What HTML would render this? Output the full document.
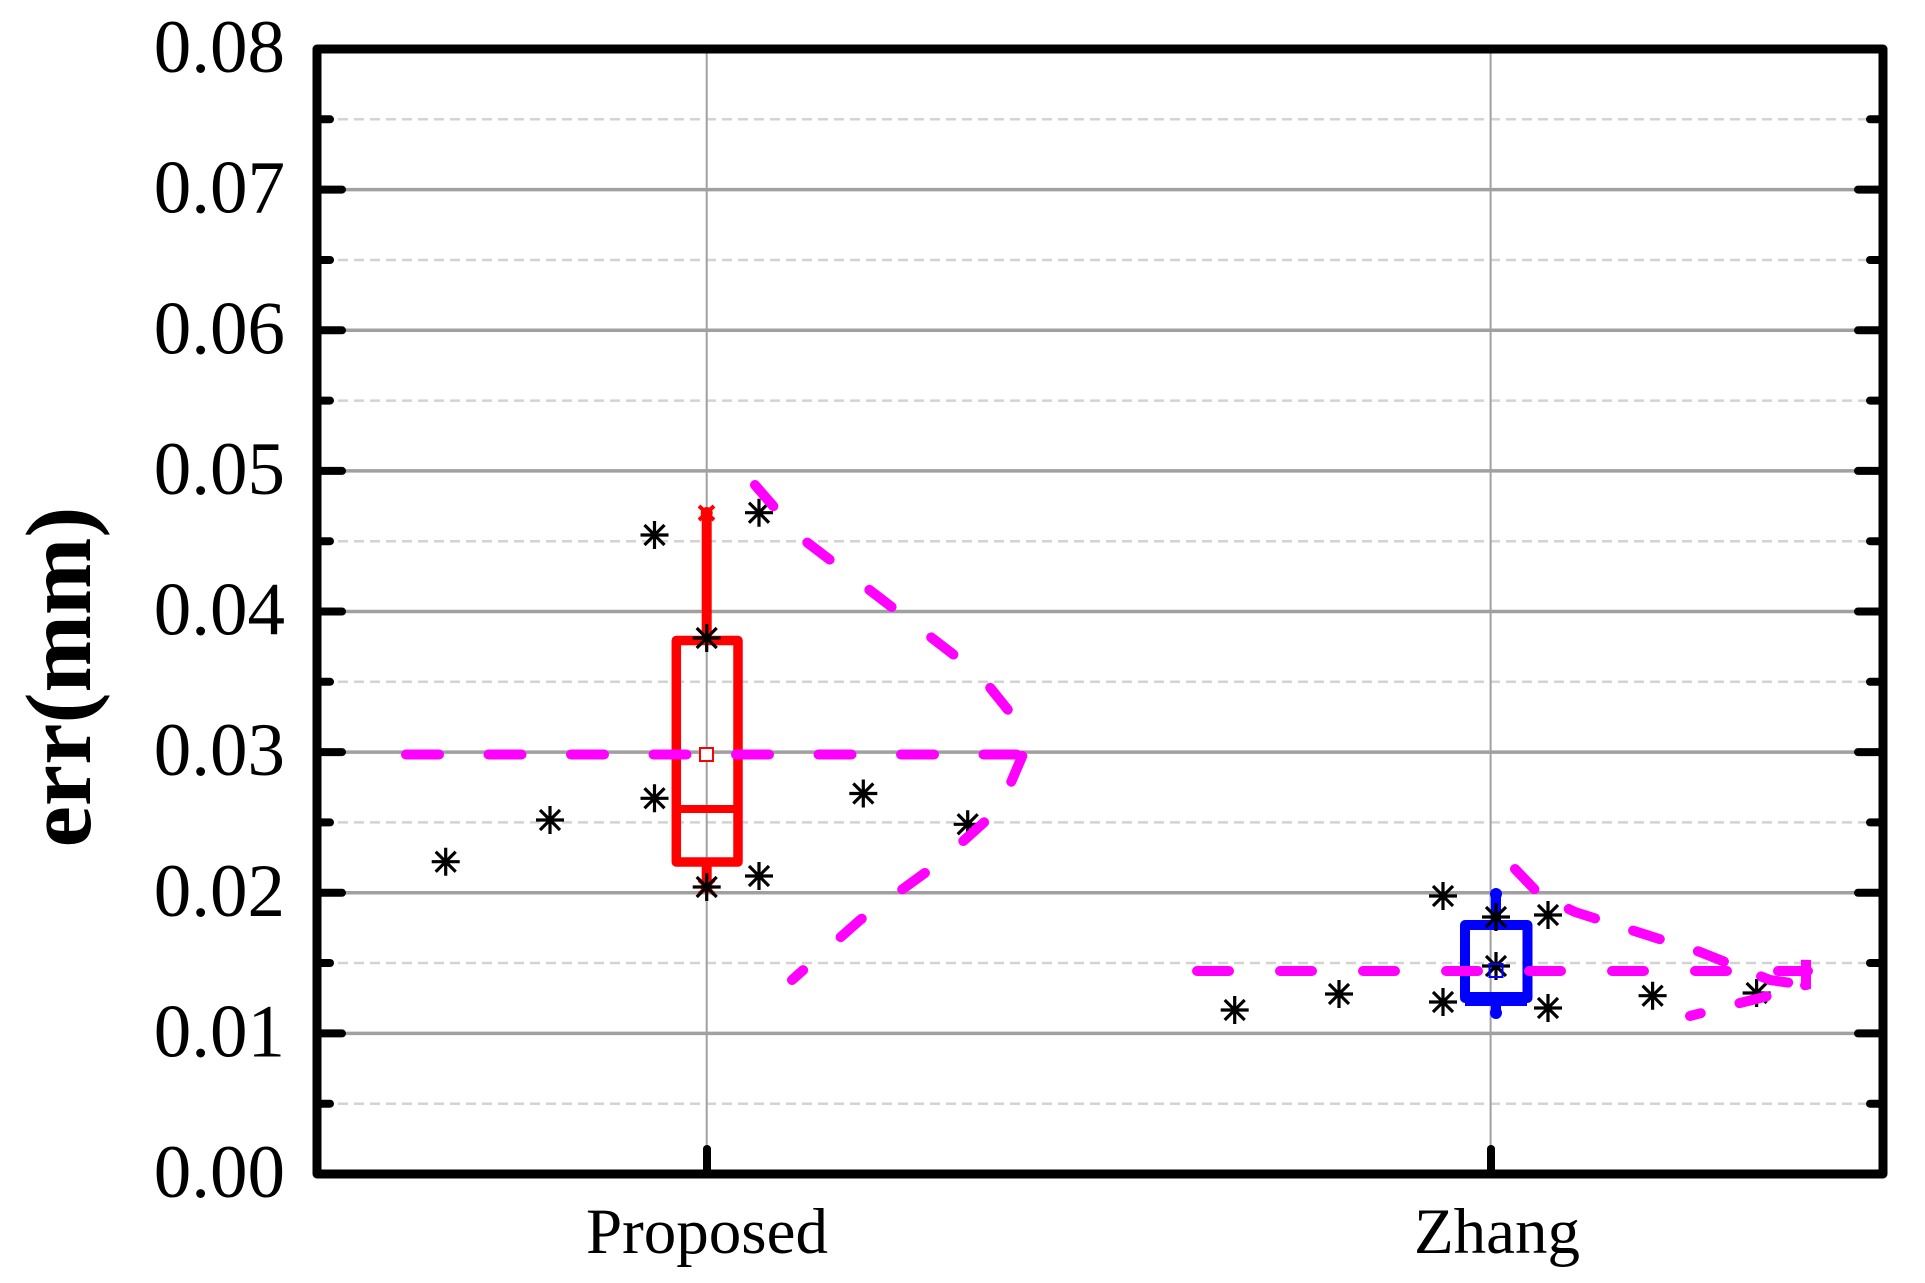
<!DOCTYPE html>
<html><head><meta charset="utf-8"><style>
html,body{margin:0;padding:0;background:#fff;}
svg{display:block;}
</style></head><body>
<svg width="1925" height="1283" viewBox="0 0 1925 1283" xmlns="http://www.w3.org/2000/svg">
<defs>
<g id="ast"><path d="M-14 0H14M0 -14V14M-10 -10L10 10M-10 10L10 -10" stroke="#000" stroke-width="3.2" fill="none"/></g>
</defs>
<!-- minor dashed grid -->
<g stroke="#d3d3d3" stroke-width="2.5" stroke-dasharray="10 6">
<line x1="322" y1="119.3" x2="1879" y2="119.3"/>
<line x1="322" y1="260" x2="1879" y2="260"/>
<line x1="322" y1="400.6" x2="1879" y2="400.6"/>
<line x1="322" y1="541.2" x2="1879" y2="541.2"/>
<line x1="322" y1="681.8" x2="1879" y2="681.8"/>
<line x1="322" y1="822.4" x2="1879" y2="822.4"/>
<line x1="322" y1="963" x2="1879" y2="963"/>
<line x1="322" y1="1103.7" x2="1879" y2="1103.7"/>
</g>
<!-- major grid -->
<g stroke="#a0a0a0" stroke-width="3.5">
<line x1="322" y1="189.6" x2="1879" y2="189.6"/>
<line x1="322" y1="330.3" x2="1879" y2="330.3"/>
<line x1="322" y1="470.9" x2="1879" y2="470.9"/>
<line x1="322" y1="611.5" x2="1879" y2="611.5"/>
<line x1="322" y1="752.1" x2="1879" y2="752.1"/>
<line x1="322" y1="892.8" x2="1879" y2="892.8"/>
<line x1="322" y1="1033.4" x2="1879" y2="1033.4"/>
</g>
<g stroke="#a0a0a0" stroke-width="2">
<line x1="706.7" y1="53" x2="706.7" y2="1170"/>
<line x1="1490.6" y1="53" x2="1490.6" y2="1170"/>
</g>
<!-- ticks -->
<g stroke="#000" stroke-width="8" stroke-linecap="round">
<line x1="318" y1="119.3" x2="330" y2="119.3"/><line x1="318" y1="260" x2="330" y2="260"/><line x1="318" y1="400.6" x2="330" y2="400.6"/><line x1="318" y1="541.2" x2="330" y2="541.2"/><line x1="318" y1="681.8" x2="330" y2="681.8"/><line x1="318" y1="822.4" x2="330" y2="822.4"/><line x1="318" y1="963" x2="330" y2="963"/><line x1="318" y1="1103.7" x2="330" y2="1103.7"/>
<line x1="318" y1="189.6" x2="342" y2="189.6"/><line x1="318" y1="330.3" x2="342" y2="330.3"/><line x1="318" y1="470.9" x2="342" y2="470.9"/><line x1="318" y1="611.5" x2="342" y2="611.5"/><line x1="318" y1="752.1" x2="342" y2="752.1"/><line x1="318" y1="892.8" x2="342" y2="892.8"/><line x1="318" y1="1033.4" x2="342" y2="1033.4"/>
<line x1="1870" y1="119.3" x2="1882" y2="119.3"/><line x1="1870" y1="260" x2="1882" y2="260"/><line x1="1870" y1="400.6" x2="1882" y2="400.6"/><line x1="1870" y1="541.2" x2="1882" y2="541.2"/><line x1="1870" y1="681.8" x2="1882" y2="681.8"/><line x1="1870" y1="822.4" x2="1882" y2="822.4"/><line x1="1870" y1="963" x2="1882" y2="963"/><line x1="1870" y1="1103.7" x2="1882" y2="1103.7"/>
<line x1="1858" y1="189.6" x2="1882" y2="189.6"/><line x1="1858" y1="330.3" x2="1882" y2="330.3"/><line x1="1858" y1="470.9" x2="1882" y2="470.9"/><line x1="1858" y1="611.5" x2="1882" y2="611.5"/><line x1="1858" y1="752.1" x2="1882" y2="752.1"/><line x1="1858" y1="892.8" x2="1882" y2="892.8"/><line x1="1858" y1="1033.4" x2="1882" y2="1033.4"/>
<line x1="707" y1="1149" x2="707" y2="1172"/>
<line x1="1491" y1="1149" x2="1491" y2="1172"/>
</g>
<!-- frame -->
<rect x="317" y="49" width="1566" height="1125" fill="none" stroke="#000" stroke-width="9" stroke-linejoin="round"/>

<!-- Proposed box -->
<g stroke="#ff0000" fill="none">
<line x1="706.7" y1="513" x2="706.7" y2="640" stroke-width="10"/>
<line x1="706.7" y1="862" x2="706.7" y2="886" stroke-width="10"/>
<rect x="676.3" y="640.5" width="61.7" height="221.5" stroke-width="9.5" stroke-linejoin="round"/>
<line x1="676" y1="809" x2="738" y2="809" stroke-width="8"/>
<path d="M699 506L714 520M714 506L699 520" stroke-width="4"/>
<path d="M699 880L714 894M714 880L699 894" stroke-width="4"/>
</g>
<circle cx="706.7" cy="513" r="6" fill="#ff0000"/>
<circle cx="706.7" cy="887" r="6" fill="#ff0000"/>
<!-- Proposed asterisks -->
<use href="#ast" x="445.7" y="861.7"/>
<use href="#ast" x="550" y="820"/>
<use href="#ast" x="654.5" y="798.3"/>
<use href="#ast" x="654.5" y="535"/>
<use href="#ast" x="706.7" y="638"/>
<use href="#ast" x="706.7" y="887"/>
<use href="#ast" x="759" y="512.7"/>
<use href="#ast" x="759" y="876"/>
<use href="#ast" x="863.3" y="793.5"/>
<use href="#ast" x="967.7" y="824.3"/>
<rect x="700" y="748" width="13" height="13" fill="#fff" stroke="#ff0000" stroke-width="2"/>

<!-- Zhang box -->
<g stroke="#0000ff" fill="none">
<line x1="1496" y1="893" x2="1496" y2="925" stroke-width="10"/>
<line x1="1496" y1="1000" x2="1496" y2="1015" stroke-width="10"/>
<rect x="1465" y="925" width="62.5" height="73" stroke-width="10" stroke-linejoin="round"/>
<line x1="1465" y1="999" x2="1527" y2="999" stroke-width="14"/>
</g>
<circle cx="1496" cy="894" r="6" fill="#0000ff"/>
<circle cx="1496" cy="1013" r="6" fill="#0000ff"/>
<use href="#ast" x="1234.7" y="1010"/>
<use href="#ast" x="1339" y="994"/>
<use href="#ast" x="1443" y="896"/>
<use href="#ast" x="1443" y="1002"/>
<use href="#ast" x="1496" y="917"/>
<use href="#ast" x="1496" y="966"/>
<use href="#ast" x="1548" y="915"/>
<use href="#ast" x="1548" y="1008"/>
<use href="#ast" x="1652.6" y="995.7"/>
<use href="#ast" x="1756.6" y="993"/>
<rect x="1489.5" y="964" width="13" height="13" fill="none" stroke="#0000ff" stroke-width="2"/>

<!-- magenta distribution curves -->
<g stroke="#ff00ff" stroke-width="10" stroke-linecap="round" fill="none">
<line x1="406" y1="754.5" x2="1024" y2="754.5" stroke-dasharray="33 49.5"/>
<polyline points="755,485 800,537 880,598 980,675 1012,715 1024,752 1000,808 940,862 860,920 792,980" stroke-dasharray="28 50"/>
<line x1="1197" y1="971" x2="1808" y2="971" stroke-dasharray="32 51"/>
<polyline points="1515,869 1540,895 1575,912 1700,952 1770,980 1805,985 1806,960 1806,985 1780,993 1740,1003 1690,1016" stroke-dasharray="28 40"/>
</g>

<!-- tick labels -->
<g font-family="Liberation Serif, serif" font-size="75" text-anchor="end" fill="#000">
<text x="285" y="72">0.08</text>
<text x="285" y="212.6">0.07</text>
<text x="285" y="353.3">0.06</text>
<text x="285" y="493.9">0.05</text>
<text x="285" y="634.5">0.04</text>
<text x="285" y="775.1">0.03</text>
<text x="285" y="915.8">0.02</text>
<text x="285" y="1056.4">0.01</text>
<text x="285" y="1197">0.00</text>
</g>
<g font-family="Liberation Serif, serif" font-size="65" text-anchor="middle" fill="#000">
<text x="707" y="1253">Proposed</text>
<text x="1497" y="1253">Zhang</text>
</g>
<text transform="translate(90,677) rotate(-90)" font-family="Liberation Serif, serif" font-weight="bold" font-size="93" text-anchor="middle" fill="#000">err(mm)</text>
</svg>
</body></html>
